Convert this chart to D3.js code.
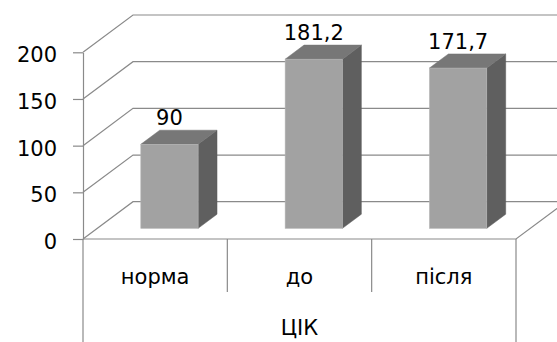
<!DOCTYPE html>
<html>
<head>
<meta charset="utf-8">
<script src="https://cdn.jsdelivr.net/npm/d3@7"></script>
<style>
  html, body { margin: 0; padding: 0; background: #fff; }
  svg { display: block; }
  text { font-family: "DejaVu Sans", sans-serif; fill: #000; }
</style>
</head>
<body>
<svg id="chart" width="557" height="342"></svg>
<script>
// ЦІК: норма / до / після
const categories = ["норма", "до", "після"];
const values = [90, 181.2, 171.7];
const valueLabels = ["90", "181,2", "171,7"];
const yTicks = [0, 50, 100, 150, 200];
const groupLabel = "ЦІК";

const W = 557, H = 342;
const svg = d3.select("#chart");

// Plot frame (front plane) and depth offset of the back wall
const frontLeft = 83, frontRight = 516, floorY = 239, topY = 52.3;
const depthX = 50, depthY = -37.3;

const x = d3.scaleBand().domain(categories).range([frontLeft, frontRight]);
const y = d3.scaleLinear().domain([0, 200]).range([floorY, topY]);

// project a front-plane point back by a depth fraction z in [0,1]
const P = (px, py, z) => [px + z * depthX, py + z * depthY];

const gridColor = "#8a8a8a";
const line = d3.line();

// Back-wall gridlines and left-wall diagonals
const grid = svg.append("g").attr("fill", "none").attr("stroke", gridColor).attr("stroke-width", 1.2);
yTicks.forEach(v => {
  const a = [frontLeft, y(v)];
  const b = P(frontLeft, y(v), 1);
  const c = P(frontRight + 60, y(v), 1);
  grid.append("path").attr("d", line([a, b, c]));
});

// Floor front edge and right floor edge
grid.append("path").attr("d", line([[frontLeft, floorY], [frontRight, floorY], P(frontRight, floorY, 1)]));

// Y axis with ticks and labels
const yAxis = d3.axisLeft(y).tickValues(yTicks).tickSize(10).tickSizeOuter(0).tickPadding(16);
const ya = svg.append("g").attr("transform", `translate(${frontLeft},0)`).call(yAxis);
ya.selectAll("path, line").attr("stroke", gridColor).attr("stroke-width", 1.2);
ya.selectAll("text").attr("font-size", 21).attr("font-family", "DejaVu Sans, sans-serif")
  .attr("fill", "#000").attr("dy", "0.45em");

// Category separators below the floor
const sepBounds = [frontLeft, ...categories.slice(1).map(c => x(c)), frontRight];
sepBounds.forEach((sx, i) => {
  const outer = i === 0 || i === sepBounds.length - 1;
  svg.append("line")
    .attr("x1", sx).attr("x2", sx)
    .attr("y1", floorY).attr("y2", outer ? H : 292)
    .attr("stroke", gridColor).attr("stroke-width", 1.2);
});

// Category labels and group label
svg.append("g").selectAll("text").data(categories).join("text")
  .attr("x", d => x(d) + x.bandwidth() / 2)
  .attr("y", 284)
  .attr("text-anchor", "middle")
  .attr("font-size", 21)
  .text(d => d);

svg.append("text")
  .attr("x", (frontLeft + frontRight) / 2)
  .attr("y", 335)
  .attr("text-anchor", "middle")
  .attr("font-size", 21)
  .text(groupLabel);

// 3D bars
const z0 = 0.286, z1 = 0.664;
const barFrac = 0.397;
const bars = svg.append("g");
categories.forEach((c, i) => {
  const v = values[i];
  const cx = x(c) + x.bandwidth() / 2;
  const bw = x.bandwidth() * barFrac;
  const [fx0, fyb] = P(cx - bw / 2, y(0), z0);
  const [fx1, fyt] = P(cx + bw / 2, y(v), z0);
  const [bx0, byt] = P(cx - bw / 2, y(v), z1);
  const [bx1, byb] = P(cx + bw / 2, y(0), z1);
  // side face
  bars.append("path")
    .attr("d", line([[fx1, fyt], [bx1, byt], [bx1, byb], [fx1, fyb]]) + "Z")
    .attr("fill", "#5f5f5f").attr("stroke", "#5a5a5a").attr("stroke-width", 0.5);
  // top face
  bars.append("path")
    .attr("d", line([[fx0, fyt], [bx0, byt], [bx1, byt], [fx1, fyt]]) + "Z")
    .attr("fill", "#777777").attr("stroke", "#727272").attr("stroke-width", 0.5);
  // front face
  bars.append("rect")
    .attr("x", fx0).attr("y", fyt)
    .attr("width", fx1 - fx0).attr("height", fyb - fyt)
    .attr("fill", "#a2a2a2").attr("stroke", "#b4b4b4").attr("stroke-width", 0.6);
  // value label
  bars.append("text")
    .attr("x", (fx0 + fx1) / 2)
    .attr("y", fyt - 19)
    .attr("text-anchor", "middle")
    .attr("font-size", 21)
    .text(valueLabels[i]);
});
</script>
</body>
</html>
